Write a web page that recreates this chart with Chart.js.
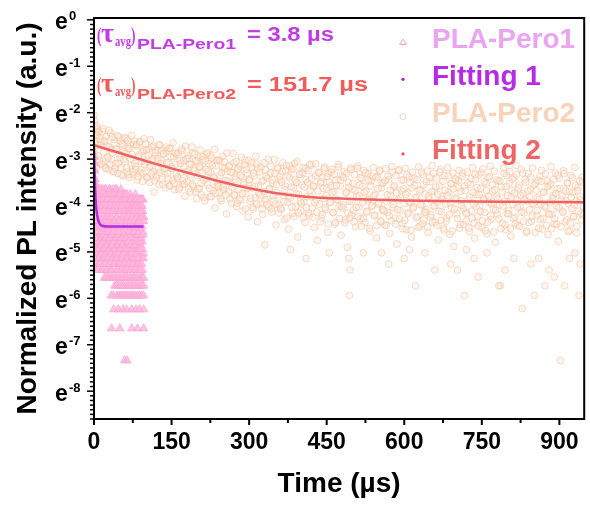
<!DOCTYPE html>
<html>
<head>
<meta charset="utf-8">
<title>PL decay</title>
<script src="https://cdn.jsdelivr.net/npm/chart.js"></script>
<style>
  html, body { margin: 0; padding: 0; background: #fff; }
  canvas { display: block; }
</style>
</head>
<body>
<canvas id="decayChart" width="590" height="506"></canvas>
<script>
    // Tick labels (y ticks are powers of e)
    const xTicks = [0, 150, 300, 450, 600, 750, 900];
    const yTicks = [0, -1, -2, -3, -4, -5, -6, -7, -8];

    // [time (µs), ln(normalized PL)]
    const pero1 = [
        [0.2,-2.96],[0.5,-3.09],[0.8,-3.25],[1.1,-3.43],[1.4,-3.25],[1.7,-3.53],[2,-3.43],[2.4,-3.65],[2.8,-3.53],[3.2,-3.76],
        [3.6,-3.65],[4,-3.87],[4.4,-4.12],[4.8,-4.45],[5.2,-4.01],[5.6,-4.70],[1.5,-4.25],[2.5,-4.70],[3.5,-5.04],[4.5,-5.14],
        [3,-4.45],[2,-4.01],[1,-3.87],[4,-4.86],[5,-5.26],[5.5,-4.34],[3,-5.39],[4.2,-4.57],[2.2,-4.94],[5.8,-5.04],
        [6,-3.65],[6.5,-4.45],[7,-5.04],[7.5,-3.87],[8,-4.70],[8.5,-4.12],[9,-5.26],[9.5,-3.76],[10,-4.34],[10.5,-4.86],
        [11,-3.65],[11.5,-4.57],[12,-5.14],[12.5,-4.01],[13,-4.78],[13.5,-3.76],[14,-4.25],[14.5,-5.39],[15,-4.63],[15.5,-3.87],
        [16,-4.94],[16.5,-4.12],[17,-3.65],[17.5,-5.04],[18,-4.45],[18.5,-4.70],[19,-3.87],[19.5,-5.26],[20,-4.34],[20.5,-3.76],
        [21,-4.86],[21.5,-4.01],[22,-5.14],[22.5,-4.57],[23,-3.65],[23.5,-4.78],[24,-4.25],[24.5,-5.39],[25,-3.87],[25.5,-4.63],
        [26,-4.12],[26.5,-5.04],[27,-3.76],[27.5,-4.94],[28,-4.45],[28.5,-5.26],[29,-4.01],[29.5,-4.70],[30,-3.65],[30.5,-4.34],
        [31,-5.14],[31.5,-3.87],[32,-4.86],[32.5,-4.25],[33,-5.39],[33.5,-4.57],[34,-3.76],[34.5,-4.78],[35,-4.12],[35.5,-5.04],
        [36,-4.45],[36.5,-3.65],[37,-4.94],[37.5,-4.01],[38,-5.26],[38.5,-4.63],[39,-3.87],[39.5,-4.34],[40,-5.14],[40.5,-4.70],
        [41,-3.76],[41.5,-4.86],[42,-4.12],[42.5,-5.39],[43,-4.25],[43.5,-3.65],[44,-5.04],[44.5,-4.57],[45,-4.01],[45.5,-4.78],
        [46,-5.26],[46.5,-3.87],[47,-4.45],[47.5,-4.94],[48,-3.76],[48.5,-5.14],[49,-4.34],[49.5,-4.70],[50,-4.12],[50.5,-5.39],
        [51,-4.01],[51.5,-4.63],[52,-3.65],[52.5,-5.04],[53,-4.86],[53.5,-4.25],[54,-3.87],[54.5,-5.26],[55,-4.57],[55.5,-4.12],
        [56,-4.78],[56.5,-3.76],[57,-5.14],[57.5,-4.45],[58,-4.01],[58.5,-4.94],[59,-5.39],[59.5,-3.87],[60,-4.34],[60.5,-4.70],
        [61,-3.76],[61.5,-5.04],[62,-4.25],[62.5,-4.86],[63,-4.12],[63.5,-5.26],[64,-3.87],[64.5,-4.57],[65,-4.01],[65.5,-4.78],
        [66,-5.14],[66.5,-4.34],[67,-3.87],[67.5,-4.94],[68,-4.45],[68.5,-5.39],[69,-4.12],[69.5,-4.63],[70,-3.76],[70.5,-5.04],
        [71,-4.25],[71.5,-4.86],[72,-4.01],[72.5,-5.26],[73,-3.87],[73.5,-4.70],[74,-4.57],[74.5,-5.14],[75,-4.12],[75.5,-4.34],
        [76,-4.94],[76.5,-3.87],[77,-5.39],[77.5,-4.45],[78,-4.01],[78.5,-4.78],[79,-5.04],[79.5,-4.25],[80,-3.76],[80.5,-4.63],
        [81,-5.26],[81.5,-4.12],[82,-4.86],[82.5,-4.34],[83,-3.87],[83.5,-5.14],[84,-4.57],[84.5,-4.01],[85,-4.94],[85.5,-5.39],
        [86,-4.25],[86.5,-3.87],[87,-4.70],[87.5,-5.04],[88,-4.45],[88.5,-4.12],[89,-5.26],[89.5,-3.87],[90,-4.63],[90.5,-4.86],
        [91,-4.01],[91.5,-5.14],[92,-4.34],[92.5,-3.87],[93,-4.78],[93.5,-5.39],[94,-4.12],[94.5,-4.57],[95,-3.87],[95.5,-5.04],
        [96,-4.25],
        [6.25,-4.25],[6.75,-5.39],[7.25,-3.76],[7.75,-4.57],[8.25,-4.94],[8.75,-3.65],[9.25,-5.14],[9.75,-4.01],[10.25,-4.78],[10.75,-4.45],
        [11.25,-5.26],[11.75,-4.12],[12.25,-3.87],[12.75,-4.86],[13.25,-4.34],[13.75,-5.04],[14.25,-3.65],[14.75,-4.70],[15.25,-4.01],[15.75,-5.39],
        [16.25,-4.57],[16.75,-3.76],[17.25,-4.78],[17.75,-5.14],[18.25,-4.25],[18.75,-3.87],[19.25,-4.63],[19.75,-4.94],[20.25,-4.12],[20.75,-5.26],
        [21.25,-4.45],[21.75,-3.65],[22.25,-5.04],[22.75,-4.34],[23.25,-4.70],[23.75,-3.76],[24.25,-5.39],[24.75,-4.01],[25.25,-4.86],[25.75,-4.25],
        [26.25,-3.87],[26.75,-4.57],[27.25,-5.14],[27.75,-4.12],[28.25,-3.76],[28.75,-4.94],[29.25,-4.34],[29.75,-5.26],[30.25,-4.45],[30.75,-3.65],
        [31.25,-4.70],[31.75,-5.04],[32.25,-4.01],[32.75,-3.76],[33.25,-4.63],[33.75,-5.39],[34.25,-4.25],[34.75,-3.87],[35.25,-4.86],[35.75,-4.45],
        [36.25,-5.14],[36.75,-4.12],[37.25,-3.76],[37.75,-4.57],[38.25,-4.78],[38.75,-3.87],[39.25,-5.26],[39.75,-4.34],[40.25,-4.01],[40.75,-4.94],
        [41.25,-4.45],[41.75,-5.04],[42.25,-3.65],[42.75,-4.70],[43.25,-4.12],[43.75,-5.14],[44.25,-3.87],[44.75,-4.25],[45.25,-4.86],[45.75,-5.39],
        [46.25,-4.01],[46.75,-4.63],[47.25,-5.04],[47.75,-3.76],[48.25,-4.34],[48.75,-4.57],[49.25,-3.87],[49.75,-5.26],[50.25,-4.78],[50.75,-4.12],
        [51.25,-4.94],[51.75,-3.76],[52.25,-4.45],[52.75,-5.39],[53.25,-4.01],[53.75,-4.70],[54.25,-5.14],[54.75,-3.87],[55.25,-4.34],[55.75,-4.86],
        [56.25,-4.25],[56.75,-5.04],[57.25,-3.87],[57.75,-4.63],[58.25,-5.26],[58.75,-4.12],[59.25,-3.76],[59.75,-4.94],[60.25,-4.45],[60.75,-5.39],
        [61.25,-4.45],[61.75,-3.87],[62.25,-4.70],[62.75,-5.14],[63.25,-4.34],[63.75,-3.76],[64.25,-4.94],[64.75,-5.39],[65.25,-4.25],[65.75,-4.12],
        [66.25,-4.01],[66.75,-4.78],[67.25,-5.26],[67.75,-3.87],[68.25,-4.57],[68.75,-4.12],[69.25,-5.04],[69.75,-4.34],[70.25,-4.86],[70.75,-3.87],
        [71.25,-5.39],[71.75,-4.12],[72.25,-4.45],[72.75,-3.87],[73.25,-4.94],[73.75,-5.04],[74.25,-4.01],[74.75,-4.25],[75.25,-4.78],[75.75,-5.26],
        [76.25,-4.12],[76.75,-4.57],[77.25,-4.34],[77.75,-5.14],[78.25,-4.86],[78.75,-4.01],[79.25,-3.87],[79.75,-4.70],[80.25,-5.39],[80.75,-4.45],
        [81.25,-4.01],[81.75,-4.78],[82.25,-3.87],[82.75,-5.04],[83.25,-4.45],[83.75,-4.25],[84.25,-5.26],[84.75,-4.12],[85.25,-4.63],[85.75,-4.34],
        [86.25,-5.14],[86.75,-4.57],[87.25,-4.01],[87.75,-4.34],[88.25,-4.94],[88.75,-3.87],[89.25,-4.78],[89.75,-5.39],[90.25,-4.25],[90.75,-4.12],
        [91.25,-4.70],[91.75,-3.87],[92.25,-5.26],[92.75,-4.45],[93.25,-4.01],[93.75,-4.94],[94.25,-4.63],[94.75,-4.25],[95.25,-5.14],[95.75,-4.34],
        [20,-5.56],[23,-5.56],[27,-5.56],[30,-5.56],[34,-5.56],[37,-5.56],[41,-5.56],[44,-5.56],[48,-5.56],[51,-5.56],
        [55,-5.56],[58,-5.56],[62,-5.56],[65,-5.56],[69,-5.56],[72,-5.56],[76,-5.56],[79,-5.56],[83,-5.56],[86,-5.56],
        [90,-5.56],[93,-5.56],[96,-5.56],
        [40,-5.73],[43,-5.73],[47,-5.73],[50,-5.73],[54,-5.73],[57,-5.73],[61,-5.73],[65,-5.73],[68,-5.73],[72,-5.73],
        [75,-5.73],[79,-5.73],[82,-5.73],[86,-5.73],[89,-5.73],[93,-5.73],[96,-5.73],
        [33,-5.94],[37,-5.94],[44,-5.94],[48,-5.94],[52,-5.94],[56,-5.94],[60,-5.94],[64,-5.94],[68,-5.94],[72,-5.94],
        [76,-5.94],[80,-5.94],[84,-5.94],[88,-5.94],[92,-5.94],[96,-5.94],
        [38,-6.24],[47,-6.24],[56,-6.24],[63,-6.24],[73,-6.24],[81,-6.24],[88,-6.24],[96,-6.24],
        [34,-6.65],[50,-6.65],[73,-6.65],[84,-6.65],[96,-6.65],
        [59,-7.34],[64,-7.34]
    ];

    const pero2 = [
        [0,-2.05],[1,-2.18],[3,-2.42],[5,-2.28],[7,-2.36],
        [0,-2.85],[2,-2.31],[4,-2.62],[6,-2.48],[8,-2.93],[10,-2.55],[12,-3.12],[14,-2.70],[16,-2.41],[18,-3.05],
        [20,-2.62],[22,-3.18],[24,-2.51],[26,-2.95],[28,-3.22],[30,-2.74],[32,-2.44],[34,-3.01],[36,-2.86],[38,-3.27],
        [40,-2.58],[42,-3.10],[44,-2.79],[46,-3.31],[48,-2.52],[50,-2.97],[52,-3.19],[54,-2.66],[56,-3.36],[58,-2.84],
        [60,-3.05],[62,-2.55],[64,-3.28],[66,-2.77],[68,-3.40],[70,-2.68],[72,-3.14],[74,-2.90],[76,-3.33],[78,-2.61],
        [80,-3.22],[82,-2.72],[84,-3.45],[86,-2.95],[88,-2.64],[90,-3.29],[92,-3.05],[94,-3.48],[96,-2.80],[98,-3.12],
        [100,-2.67],[102,-3.38],[104,-3.01],[106,-2.78],[108,-3.50],[110,-3.16],[112,-2.74],[114,-3.27],[116,-3.71],[118,-2.92],
        [120,-3.35],[122,-2.81],[124,-3.19],[126,-3.55],[128,-2.70],[130,-3.02],[132,-3.44],[134,-2.88],[136,-3.27],[138,-3.62],
        [140,-2.83],[142,-3.31],[144,-3.08],[146,-3.57],[148,-2.77],[150,-3.20],[152,-3.46],[154,-2.95],[156,-3.66],[158,-3.11],
        [160,-2.90],[162,-3.42],[164,-3.66],[166,-3.03],[168,-3.29],[170,-2.82],[172,-3.54],[174,-3.17],[176,-3.80],[178,-3.00],
        [180,-3.48],[182,-2.93],[184,-3.33],[186,-3.71],[188,-3.12],[190,-2.87],[192,-3.59],[194,-3.25],[196,-3.04],[198,-3.85],
        [200,-3.36],[202,-2.96],[204,-3.63],[206,-3.18],[208,-3.77],[210,-3.01],[212,-3.46],[214,-3.90],[216,-3.22],[218,-2.89],
        [220,-3.55],[222,-3.10],[224,-3.81],[226,-3.29],[228,-2.97],[230,-3.68],[232,-3.40],[234,-4.05],[236,-3.14],[238,-3.58],
        [240,-3.02],[242,-3.73],[244,-3.35],[246,-3.90],[248,-3.18],[250,-3.61],[252,-3.06],[254,-3.47],[256,-4.18],[258,-3.26],
        [260,-3.70],[262,-3.13],[264,-3.52],[266,-3.95],[268,-3.29],[270,-3.08],[272,-3.78],[274,-3.44],[276,-4.02],[278,-3.21],
        [280,-3.66],[282,-3.15],[284,-3.88],[286,-3.39],[288,-4.12],[290,-3.55],[292,-3.02],[294,-3.74],[296,-3.30],[298,-4.25],
        [300,-3.45],[302,-3.91],[304,-3.19],[306,-3.62],[308,-4.08],[310,-3.36],[312,-3.82],[314,-3.11],[316,-4.35],[318,-3.57],
        [320,-3.28],[322,-3.97],[324,-3.49],[326,-4.19],[328,-3.70],[330,-4.85],[332,-3.23],[334,-3.86],[336,-3.41],[338,-4.03],
        [340,-3.63],[342,-3.16],[344,-4.14],[346,-3.52],[348,-3.89],[350,-3.31],[352,-4.42],[354,-3.72],[356,-3.20],[358,-3.99],
        [360,-3.45],[362,-4.08],[364,-3.27],[366,-3.79],[368,-4.30],[370,-3.58],[372,-3.14],[374,-3.93],[376,-4.51],[378,-3.40],
        [380,-3.84],[382,-3.22],[384,-4.17],[386,-3.61],[388,-3.09],[390,-4.02],[392,-3.50],[394,-4.68],[396,-3.76],[398,-3.33],
        [400,-4.11],[402,-3.56],[404,-3.18],[406,-3.92],[408,-4.36],[410,-3.44],[412,-3.81],[414,-3.25],[416,-4.22],[418,-3.67],
        [420,-3.13],[422,-4.05],[424,-3.59],[426,-4.47],[428,-3.36],[430,-3.88],[432,-4.75],[434,-3.28],[436,-3.97],[438,-3.52],
        [440,-4.27],[442,-3.40],[444,-3.85],[446,-3.17],[448,-4.09],[450,-3.62],[452,-4.58],[454,-3.31],[456,-3.94],[458,-3.57],
        [460,-3.22],[462,-4.15],[464,-3.70],[466,-4.40],[468,-3.45],[470,-3.88],[472,-3.12],[474,-4.02],[476,-3.58],[478,-4.64],
        [480,-3.36],[482,-3.99],[484,-3.27],[486,-4.31],[488,-3.73],[490,-4.90],[492,-3.50],[494,-3.91],[496,-3.19],[498,-4.20],
        [500,-3.65],[502,-4.10],[504,-3.34],[506,-4.46],[508,-3.80],[510,-3.15],[512,-4.03],[514,-3.56],[516,-4.28],[518,-3.41],
        [520,-3.94],[522,-3.24],[524,-4.37],[526,-3.69],[528,-4.12],[530,-3.31],[532,-3.86],[534,-4.55],[536,-3.47],[538,-4.00],
        [540,-3.18],[542,-4.21],[544,-3.75],[546,-4.70],[548,-3.39],[550,-3.97],[552,-3.26],[554,-4.33],[556,-3.62],[558,-4.08],
        [560,-3.51],[562,-4.42],[564,-3.21],[566,-3.92],[568,-4.15],[570,-3.44],[572,-4.60],[574,-3.78],[576,-3.16],[578,-4.05],
        [580,-3.60],[582,-4.27],[584,-3.35],[586,-4.83],[588,-3.88],[590,-3.23],[592,-4.11],[594,-3.67],[596,-4.39],[598,-3.45],
        [600,-3.96],[602,-3.20],[604,-4.52],[606,-3.72],[608,-4.16],[610,-3.38],[612,-3.94],[614,-4.68],[616,-3.28],[618,-4.03],
        [620,-3.57],[622,-5.73],[624,-3.83],[626,-4.24],[628,-3.17],[630,-4.45],[632,-3.66],[634,-3.99],[636,-3.33],[638,-4.31],
        [640,-3.75],[642,-4.09],[644,-3.26],[646,-4.58],[648,-3.86],[650,-3.49],[652,-4.20],[654,-3.14],[656,-4.01],[658,-3.70],
        [660,-4.36],[662,-3.41],[664,-3.93],[666,-4.74],[668,-3.58],[670,-3.22],[672,-4.13],[674,-3.80],[676,-4.49],[678,-3.36],
        [680,-3.97],[682,-4.27],[684,-3.19],[686,-3.71],[688,-4.62],[690,-3.53],[692,-4.05],[694,-3.30],[696,-4.88],[698,-3.84],
        [700,-3.46],[702,-4.18],[704,-3.62],[706,-3.24],[708,-4.41],[710,-3.90],[712,-3.37],[714,-4.07],[716,-5.94],[718,-3.68],
        [720,-4.33],[722,-3.28],[724,-3.88],[726,-4.56],[728,-3.55],[730,-4.12],[732,-3.18],[734,-3.96],[736,-4.70],[738,-3.43],
        [740,-3.77],[742,-4.24],[744,-3.34],[746,-4.02],[748,-3.63],[750,-4.47],[752,-3.21],[754,-3.85],[756,-4.15],[758,-3.52],
        [760,-4.61],[762,-3.39],[764,-3.93],[766,-3.15],[768,-4.30],[770,-3.70],[772,-4.08],[774,-3.26],[776,-4.79],[778,-3.82],
        [780,-4.19],[782,-3.47],[784,-3.99],[786,-5.73],[788,-3.60],[790,-4.38],[792,-3.19],[794,-3.91],[796,-4.52],[798,-3.35],
        [800,-3.79],[802,-4.11],[804,-3.27],[806,-4.66],[808,-3.68],[810,-3.98],[812,-3.40],[814,-4.25],[816,-3.14],[818,-3.87],
        [820,-4.43],[822,-3.56],[824,-4.03],[826,-3.22],[828,-6.22],[830,-3.74],[832,-4.16],[834,-3.44],[836,-4.58],[838,-3.90],
        [840,-3.31],[842,-4.09],[844,-3.65],[846,-4.34],[848,-3.19],[850,-3.95],[852,-5.94],[854,-3.52],[856,-4.21],[858,-3.83],
        [860,-4.49],[862,-3.37],[864,-3.97],[866,-3.24],[868,-4.28],[870,-3.71],[872,-5.73],[874,-4.04],[876,-3.47],[878,-4.63],
        [880,-3.58],[882,-3.93],[884,-3.16],[886,-4.19],[888,-3.79],[890,-4.40],[892,-3.30],[894,-4.01],[896,-3.64],[898,-4.77],
        [900,-3.41],[902,-7.34],[904,-3.88],[906,-4.12],[908,-3.25],[910,-5.73],[912,-3.69],[914,-4.31],[916,-3.53],[918,-3.96],
        [920,-4.54],[922,-3.35],[924,-4.06],[926,-3.72],[928,-4.24],[930,-3.18],[932,-3.90],[934,-4.45],[936,-3.61],[938,-5.94],
        [940,-3.81],[942,-4.17],[944,-3.39],[946,-4.02],
        [1,-2.95],[3,-2.48],[5,-3.17],[7,-2.70],[9,-2.41],[11,-3.02],[13,-2.63],[15,-3.10],[17,-2.35],[19,-2.85],
        [21,-2.61],[23,-3.20],[25,-2.72],[27,-2.98],[29,-2.38],[31,-3.12],[33,-2.80],[35,-2.52],[37,-3.27],[39,-2.66],
        [41,-3.19],[43,-2.79],[45,-2.49],[47,-3.09],[49,-2.90],[51,-2.61],[53,-3.34],[55,-2.69],[57,-3.00],[59,-2.54],
        [61,-2.88],[63,-3.19],[65,-2.60],[67,-3.34],[69,-2.77],[71,-2.99],[73,-2.49],[75,-3.28],[77,-2.69],[79,-3.10],
        [81,-3.16],[83,-2.69],[85,-3.38],[87,-2.91],[89,-2.62],[91,-3.23],[93,-2.84],[95,-3.31],[97,-2.56],[99,-3.06],
        [101,-2.81],[103,-3.40],[105,-2.92],[107,-3.18],[109,-2.58],[111,-3.32],[113,-3.00],[115,-2.72],[117,-3.47],[119,-2.86],
        [121,-3.39],[123,-2.99],[125,-2.69],[127,-3.29],[129,-3.10],[131,-2.81],[133,-3.54],[135,-2.89],[137,-3.20],[139,-2.74],
        [141,-3.07],[143,-3.42],[145,-2.77],[147,-3.58],[149,-2.95],[151,-3.20],[153,-2.65],[155,-3.52],[157,-2.87],[159,-3.32],
        [161,-3.38],[163,-2.86],[165,-3.62],[167,-3.10],[169,-2.78],[171,-3.46],[173,-3.03],[175,-3.54],[177,-2.72],[179,-3.27],
        [181,-2.99],[183,-3.64],[185,-3.11],[187,-3.40],[189,-2.74],[191,-3.55],[193,-3.20],[195,-2.89],[197,-3.71],[199,-3.04],
        [201,-3.64],[203,-3.16],[205,-2.80],[207,-3.52],[209,-3.29],[211,-2.95],[213,-3.82],[215,-3.04],[217,-3.41],[219,-2.86],
        [221,-3.26],[223,-3.63],[225,-2.92],[227,-3.81],[229,-3.13],[231,-3.39],[233,-2.79],[235,-3.74],[237,-3.03],[239,-3.52],
        [241,-3.59],[243,-3.02],[245,-3.85],[247,-3.29],[249,-2.94],[251,-3.67],[253,-3.20],[255,-3.77],[257,-2.87],[259,-3.47],
        [261,-3.16],[263,-3.86],[265,-3.29],[267,-3.60],[269,-2.88],[271,-3.77],[273,-3.38],[275,-3.05],[277,-3.95],[279,-3.22],
        [281,-3.87],[283,-3.35],[285,-2.96],[287,-3.74],[289,-3.50],[291,-3.12],[293,-4.07],[295,-3.22],[297,-3.63],[299,-3.03],
        [301,-3.45],[303,-3.85],[305,-3.08],[307,-4.04],[309,-3.30],[311,-3.59],[313,-2.94],[315,-3.97],[317,-3.20],[319,-3.73],
        [321,-3.78],[323,-3.17],[325,-4.07],[327,-3.46],[329,-3.08],[331,-3.88],[333,-3.37],[335,-3.98],[337,-3.00],[339,-3.65],
        [341,-3.30],[343,-4.07],[345,-3.45],[347,-3.79],[349,-3.01],[351,-3.97],[353,-3.55],[355,-3.19],[357,-4.16],[359,-3.37],
        [361,-4.06],[363,-3.50],[365,-3.08],[367,-3.92],[369,-3.66],[371,-3.25],[373,-4.27],[375,-3.36],[377,-3.80],[379,-3.15],
        [381,-3.60],[383,-4.03],[385,-3.21],[387,-4.24],[389,-3.45],[391,-3.75],[393,-3.05],[395,-4.16],[397,-3.33],[399,-3.91],
        [401,-3.95],[403,-3.29],[405,-4.26],[407,-3.60],[409,-3.20],[411,-4.05],[413,-3.50],[415,-4.16],[417,-3.11],[419,-3.81],
        [421,-3.42],[423,-4.25],[425,-3.58],[427,-3.94],[429,-3.10],[431,-4.14],[433,-3.69],[435,-3.30],[437,-4.35],[439,-3.49],
        [441,-4.19],[443,-3.63],[445,-3.21],[447,-4.05],[449,-3.79],[451,-3.38],[453,-4.40],[455,-3.49],[457,-3.93],[459,-3.28],
        [461,-3.72],[463,-4.15],[465,-3.33],[467,-4.36],[469,-3.57],[471,-3.87],[473,-3.17],[475,-4.28],[477,-3.45],[479,-4.03],
        [481,-4.06],[483,-3.40],[485,-4.37],[487,-3.71],[489,-3.31],[491,-4.16],[493,-3.61],[495,-4.27],[497,-3.22],[499,-3.92],
        [501,-3.52],[503,-4.35],[505,-3.68],[507,-4.04],[509,-3.20],[511,-4.24],[513,-3.79],[515,-3.40],[517,-4.45],[519,-3.59],
        [521,-4.28],[523,-3.72],[525,-3.30],[527,-4.14],[529,-3.88],[531,-3.47],[533,-4.49],[535,-3.58],[537,-4.02],[539,-3.37],
        [541,-3.79],[543,-4.22],[545,-3.40],[547,-4.43],[549,-3.64],[551,-3.94],[553,-3.24],[555,-4.35],[557,-3.52],[559,-4.10],
        [561,-4.12],[563,-3.46],[565,-4.43],[567,-3.77],[569,-3.37],[571,-4.22],[573,-3.67],[575,-4.33],[577,-3.28],[579,-3.98],
        [581,-3.57],[583,-4.40],[585,-3.73],[587,-4.09],[589,-3.25],[591,-4.29],[593,-3.84],[595,-3.45],[597,-4.50],[599,-3.64],
        [601,-4.32],[603,-3.76],[605,-3.34],[607,-4.18],[609,-3.92],[611,-3.51],[613,-4.53],[615,-3.62],[617,-4.06],[619,-3.41],
        [621,-3.83],[623,-4.26],[625,-3.44],[627,-4.47],[629,-3.68],[631,-3.98],[633,-3.28],[635,-4.39],[637,-3.56],[639,-4.14],
        [641,-4.15],[643,-3.49],[645,-4.46],[647,-3.80],[649,-3.40],[651,-4.25],[653,-3.70],[655,-4.36],[657,-3.31],[659,-4.01],
        [661,-3.60],[663,-4.43],[665,-3.76],[667,-4.12],[669,-3.28],[671,-4.32],[673,-3.87],[675,-3.48],[677,-4.53],[679,-3.67],
        [681,-4.34],[683,-3.78],[685,-3.36],[687,-4.20],[689,-3.94],[691,-3.53],[693,-4.55],[695,-3.64],[697,-4.08],[699,-3.43],
        [701,-3.85],[703,-4.28],[705,-3.46],[707,-4.49],[709,-3.70],[711,-4.00],[713,-3.30],[715,-4.41],[717,-3.58],[719,-4.16],
        [721,-4.17],[723,-3.51],[725,-4.48],[727,-3.82],[729,-3.42],[731,-4.27],[733,-3.72],[735,-4.38],[737,-3.33],[739,-4.03],
        [741,-3.61],[743,-4.44],[745,-3.77],[747,-4.13],[749,-3.29],[751,-4.33],[753,-3.88],[755,-3.49],[757,-4.54],[759,-3.68],
        [761,-4.36],[763,-3.80],[765,-3.38],[767,-4.22],[769,-3.96],[771,-3.55],[773,-4.57],[775,-3.66],[777,-4.10],[779,-3.45],
        [781,-3.86],[783,-4.29],[785,-3.47],[787,-4.50],[789,-3.71],[791,-4.01],[793,-3.31],[795,-4.42],[797,-3.59],[799,-4.17],
        [801,-4.18],[803,-3.52],[805,-4.49],[807,-3.83],[809,-3.43],[811,-4.28],[813,-3.73],[815,-4.39],[817,-3.34],[819,-4.04],
        [821,-3.62],[823,-4.45],[825,-3.78],[827,-4.14],[829,-3.30],[831,-4.34],[833,-3.89],[835,-3.50],[837,-4.55],[839,-3.69],
        [841,-4.37],[843,-3.81],[845,-3.39],[847,-4.23],[849,-3.97],[851,-3.56],[853,-4.58],[855,-3.67],[857,-4.11],[859,-3.46],
        [861,-3.87],[863,-4.30],[865,-3.48],[867,-4.51],[869,-3.72],[871,-4.02],[873,-3.32],[875,-4.43],[877,-3.60],[879,-4.18],
        [881,-4.19],[883,-3.53],[885,-4.50],[887,-3.84],[889,-3.44],[891,-4.29],[893,-3.74],[895,-4.40],[897,-3.35],[899,-4.05],
        [901,-3.63],[903,-4.46],[905,-3.79],[907,-4.15],[909,-3.31],[911,-4.35],[913,-3.90],[915,-3.51],[917,-4.56],[919,-3.70],
        [921,-4.38],[923,-3.82],[925,-3.40],[927,-4.24],[929,-3.98],[931,-3.57],[933,-4.59],[935,-3.68],[937,-4.12],[939,-3.47],
        [941,-3.88],[943,-4.31],[945,-3.49],[947,-4.20],
        [380,-4.95],[410,-5.14],[455,-5.02],[493,-5.14],[494,-5.94],[495,-5.39],[521,-5.02],[556,-5.02],[570,-5.26],[600,-5.14],
        [610,-4.95],[640,-5.02],[659,-5.39],[690,-5.26],[703,-5.39],[720,-4.95],[735,-5.14],[743,-5.54],[760,-5.02],[783,-5.73],
        [795,-5.39],[812,-5.14],[845,-5.26],[860,-5.14],[880,-5.39],[890,-5.54],[920,-5.14],[930,-5.02],[940,-5.26]
    ];

    const fit1 = [[0,-2.75],[1,-3.2],[2,-3.6],[3,-3.85],[4,-4.02],[6,-4.2],[8,-4.31],[10,-4.37],[13,-4.42],[17,-4.44],[25,-4.45],[60,-4.45],[96,-4.45]];
    const fit2 = [[0,-2.7],[50,-2.87],[100,-3.04],[150,-3.2],[200,-3.35],[250,-3.5],[300,-3.63],[350,-3.73],[400,-3.8],[450,-3.84],[500,-3.86],[600,-3.89],[700,-3.91],[800,-3.92],[948,-3.93]];

    const legendOrder = ['PLA-Pero1', 'Fitting 1', 'PLA-Pero2', 'Fitting 2'];

    const sans = '"Liberation Sans", Arial, sans-serif';
    const serif = '"Liberation Serif", "Times New Roman", serif';
    const toXY = arr => arr.map(([t, v]) => ({ x: t, y: v }));

    // text piece, optionally squeezed/stretched to a width
    function drawSeg(ctx, text, font, color, x, y, w) {
        ctx.font = font;
        ctx.fillStyle = color;
        const nat = ctx.measureText(text).width;
        ctx.save();
        ctx.translate(x, y);
        if (w) ctx.scale(w / nat, 1);
        ctx.fillText(text, 0, 0);
        ctx.restore();
    }

    function tick(ctx, x1, y1, x2, y2) {
        ctx.beginPath();
        ctx.moveTo(x1, y1);
        ctx.lineTo(x2, y2);
        ctx.stroke();
    }

    // frame, ticks, e^n labels
    const framePlugin = {
        id: 'frame',
        afterDraw(chart) {
            const { ctx, chartArea: a, scales: { x, y } } = chart;
            ctx.save();
            ctx.strokeStyle = '#000';
            ctx.lineWidth = 2;
            ctx.strokeRect(a.left, a.top, a.right - a.left, a.bottom - a.top);

            xTicks.forEach(v => {
                const p = x.getPixelForValue(v);
                tick(ctx, p, a.bottom, p, a.bottom + 6);
                const m = x.getPixelForValue(v + 75);
                if (m < a.right) tick(ctx, m, a.bottom, m, a.bottom + 4);
            });

            ctx.lineWidth = 1.5;
            yTicks.forEach(v => {
                const p = y.getPixelForValue(v);
                tick(ctx, a.left - 7, p, a.left, p);
                for (let k = 1; k < 10; k++) {
                    const mv = v - k / 10;
                    if (mv < y.min) break;
                    const mp = y.getPixelForValue(mv);
                    tick(ctx, a.left - 4, mp, a.left, mp);
                }
            });

            ctx.textAlign = 'left';
            ctx.textBaseline = 'alphabetic';
            ctx.fillStyle = '#000';
            yTicks.forEach(v => {
                const p = y.getPixelForValue(v);
                ctx.font = 'bold 23px ' + sans;
                ctx.fillText('e', 55, p + 9.5);
                ctx.font = 'bold 13px ' + sans;
                ctx.fillText(String(v), 69, p + 0.5);
            });
            ctx.restore();
        }
    };

    // lifetimes + legend inside the plot
    const notePlugin = {
        id: 'notes',
        afterDraw(chart) {
            const { ctx } = chart;
            ctx.save();
            ctx.textAlign = 'left';
            ctx.textBaseline = 'alphabetic';
            const lines = [
                { sub: 'PLA-Pero1', val: '= 3.8 µs', w: 87, color: '#c23ce6', base: 41 },
                { sub: 'PLA-Pero2', val: '= 151.7 µs', w: 121, color: '#f05c5c', base: 91 }
            ];
            lines.forEach(l => {
                drawSeg(ctx, '(', 'bold 22px ' + serif, l.color, 97, l.base + 1, 4.5);
                drawSeg(ctx, 'τ', 'bold 28px ' + serif, l.color, 101, l.base + 1, 13);
                drawSeg(ctx, 'avg', 'bold 14px ' + serif, l.color, 115, l.base + 5, 16);
                drawSeg(ctx, ')', 'bold 22px ' + serif, l.color, 131, l.base + 1, 4.5);
                drawSeg(ctx, l.sub, 'bold 15px ' + sans, l.color, 137, l.base + 8, 99);
                drawSeg(ctx, l.val, 'bold 20px ' + sans, l.color, 247, l.base, l.w);
            });

            const textColors = {
                'PLA-Pero1': '#eaa4f2',
                'Fitting 1': '#b52be6',
                'PLA-Pero2': '#f7d3ba',
                'Fitting 2': '#f06464'
            };
            legendOrder.forEach((name, i) => {
                const ds = chart.data.datasets.find(d => d.label === name);
                const cy = 42 + i * 37.3;
                ctx.lineWidth = 1;
                ctx.strokeStyle = ds.legendMark;
                ctx.fillStyle = ds.legendMark;
                if (ds.pointStyle === 'triangle') {
                    ctx.beginPath();
                    ctx.moveTo(403, cy - 3);
                    ctx.lineTo(406.5, cy + 2.5);
                    ctx.lineTo(399.5, cy + 2.5);
                    ctx.closePath();
                    ctx.stroke();
                } else if (ds.showLine) {
                    ctx.beginPath();
                    ctx.arc(403, cy, 1.6, 0, Math.PI * 2);
                    ctx.fill();
                } else {
                    ctx.beginPath();
                    ctx.arc(403, cy, 3, 0, Math.PI * 2);
                    ctx.stroke();
                }
                ctx.font = 'bold 28px ' + sans;
                ctx.fillStyle = textColors[name];
                ctx.fillText(name, 432, 48 + i * 37);
            });
            ctx.restore();
        }
    };

    const decayCtx = document.getElementById('decayChart').getContext('2d');
    const decayChart = new Chart(decayCtx, {
        type: 'scatter',
        data: {
            datasets: [{
                label: 'Fitting 1',
                data: toXY(fit1),
                showLine: true,
                borderColor: '#b52be6',
                borderWidth: 2.5,
                pointRadius: 0,
                cubicInterpolationMode: 'monotone',
                legendMark: '#a020e0',
                order: 0
            }, {
                label: 'Fitting 2',
                data: toXY(fit2),
                showLine: true,
                borderColor: '#f06262',
                borderWidth: 2.5,
                pointRadius: 0,
                cubicInterpolationMode: 'monotone',
                legendMark: '#f05050',
                order: 0
            }, {
                label: 'PLA-Pero1',
                data: toXY(pero1),
                pointStyle: 'triangle',
                pointRadius: 4.8,
                borderWidth: 1,
                borderColor: 'rgba(250,165,212,0.7)',
                backgroundColor: 'rgba(255,180,220,0.8)',
                legendMark: '#f3a6d6',
                order: 1
            }, {
                label: 'PLA-Pero2',
                data: toXY(pero2),
                pointStyle: 'circle',
                pointRadius: 3.4,
                borderWidth: 1,
                borderColor: 'rgba(243,192,155,0.55)',
                backgroundColor: 'rgba(252,226,206,0.3)',
                legendMark: '#f2d4c0',
                order: 2
            }]
        },
        options: {
            responsive: false,
            animation: false,
            devicePixelRatio: 1,
            layout: { padding: { top: 18, left: 0, right: 0, bottom: 0 } },
            plugins: {
                legend: { display: false },
                tooltip: { enabled: false }
            },
            scales: {
                x: {
                    type: 'linear',
                    min: 0,
                    max: 948,
                    afterBuildTicks: s => { s.ticks = xTicks.map(v => ({ value: v })); },
                    afterFit: s => { s.height = 87; },
                    grid: { display: false, drawTicks: false },
                    border: { display: false },
                    ticks: {
                        color: '#000',
                        padding: 10,
                        maxRotation: 0,
                        autoSkip: false,
                        font: { family: sans, size: 23, weight: 'bold' }
                    },
                    title: {
                        display: true,
                        text: 'Time (µs)',
                        color: '#000',
                        padding: { top: 0, bottom: 5 },
                        font: { family: sans, size: 28, weight: 'bold' }
                    }
                },
                y: {
                    type: 'linear',
                    min: -8.6,
                    max: 0.04,
                    afterBuildTicks: s => { s.ticks = yTicks.map(v => ({ value: v })); },
                    afterFit: s => { s.width = 94; },
                    grid: { display: false, drawTicks: false },
                    border: { display: false },
                    ticks: { display: false },
                    title: {
                        display: true,
                        text: 'Normalized PL intensity (a.u.)',
                        color: '#000',
                        padding: { top: 11, bottom: 0 },
                        font: { family: sans, size: 28, weight: 'bold' }
                    }
                }
            }
        },
        plugins: [framePlugin, notePlugin]
    });
</script>
</body>
</html>
